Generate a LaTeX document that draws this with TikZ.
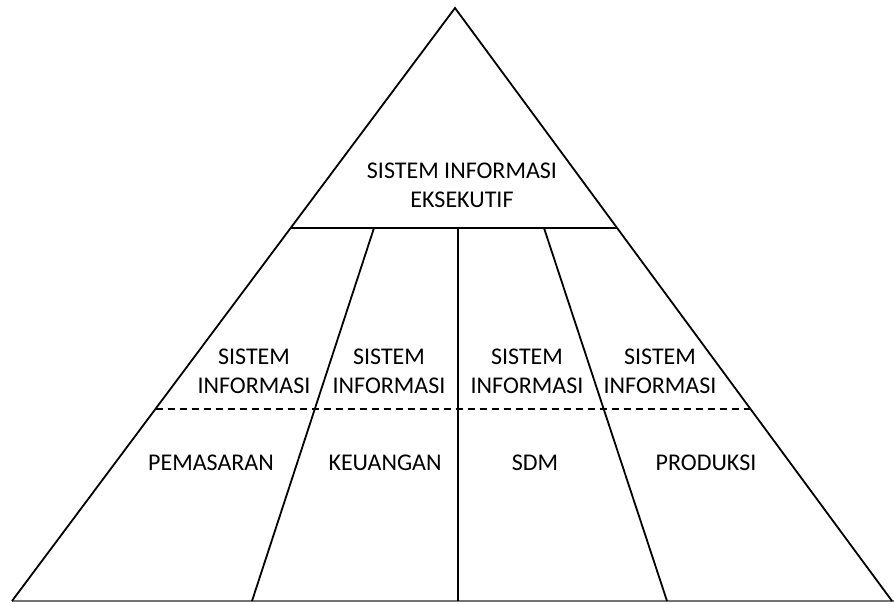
\documentclass[tikz,border=0pt]{standalone}
\usepackage{fontspec}
\setmainfont{Carlito}
\usetikzlibrary{calc}
\begin{document}
\begin{tikzpicture}[x=1pt,y=-1pt,
  edge/.style={line width=1.8pt,black},
  baseline/.style={line width=1.8pt,black!55},
  splitline/.style={line width=1.5pt,black,dash pattern=on 7pt off 5pt},
  label/.style={font=\fontsize{24}{29}\selectfont,align=center,inner sep=0pt,anchor=base}]
  \useasboundingbox (0,0) rectangle (894,603);
  % pyramid corners
  \coordinate (apex) at (455,8);
  \coordinate (bl) at (12,601);
  \coordinate (br) at (892,601);
  \coordinate (be) at (894,601);
  % executive level boundary and dashed split
  \coordinate (tl) at ($(apex)!0.371!(bl)$);
  \coordinate (tr) at ($(apex)!0.371!(br)$);
  \coordinate (dl) at ($(apex)!0.676!(bl)$);
  \coordinate (dr) at ($(apex)!0.676!(br)$);
  % functional dividers
  \coordinate (d1t) at (374,228);
  \coordinate (d1b) at (252,601);
  \coordinate (d2t) at (458,228);
  \coordinate (d2b) at (458,601);
  \coordinate (d3t) at (544,228);
  \coordinate (d3b) at (667,601);

  \draw[baseline] (bl) -- (be);
  \draw[edge] (bl) -- (apex) -- (br);
  \draw[edge] (tl) -- (tr);
  \draw[edge] (d1t) -- (d1b);
  \draw[edge] (d2t) -- (d2b);
  \draw[edge] (d3t) -- (d3b);
  \draw[splitline] (dl) -- (dr);

  % two-line labels are placed by the baseline of their last line
  \node[label] (eis) at (462,207) {SISTEM INFORMASI\\EKSEKUTIF};
  \node[label] (si1) at (254,393) {SISTEM\\INFORMASI};
  \node[label] (si2) at (389,393) {SISTEM\\INFORMASI};
  \node[label] (si3) at (527,393) {SISTEM\\INFORMASI};
  \node[label] (si4) at (660,393) {SISTEM\\INFORMASI};
  \node[label] (mkt) at (211,470) {PEMASARAN};
  \node[label] (fin) at (385,470) {KEUANGAN};
  \node[label] (hr) at (535,470) {SDM};
  \node[label] (prd) at (706,470) {PRODUKSI};
\end{tikzpicture}
\end{document}
